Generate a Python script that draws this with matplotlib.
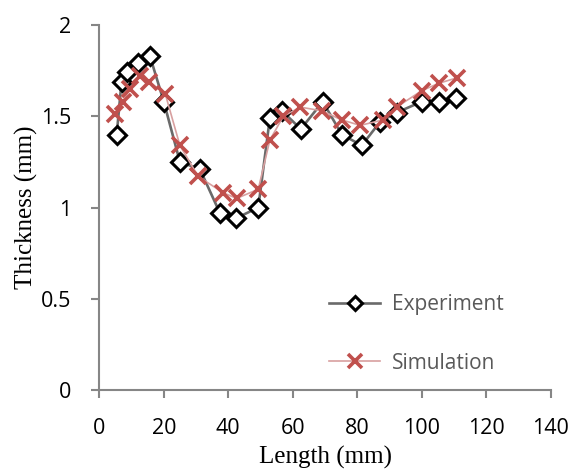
import matplotlib
matplotlib.use('Agg')
import matplotlib.pyplot as plt

# Experiment (diamonds)
exp_length = [5.4, 6.9, 8.5, 12.1, 15.7, 20.0, 25.0, 31.2, 37.4, 42.3, 49.3,
              52.9, 56.6, 62.5, 69.3, 75.2, 81.4, 87.1, 92.2, 100.0, 105.5, 110.6]
exp_thick = [1.40, 1.69, 1.74, 1.79, 1.83, 1.58, 1.25, 1.21, 0.97, 0.94, 1.00,
             1.49, 1.53, 1.43, 1.58, 1.40, 1.34, 1.47, 1.52, 1.58, 1.58, 1.60]

# Simulation (crosses)
sim_length = [5.0, 7.2, 9.5, 12.5, 15.5, 20.5, 25.0, 30.7, 38.5, 42.6, 49.3,
              52.9, 57.1, 62.3, 69.0, 75.2, 80.9, 88.0, 92.2, 100.0, 105.2, 110.8]
sim_thick = [1.51, 1.58, 1.65, 1.72, 1.69, 1.62, 1.34, 1.17, 1.08, 1.05, 1.10,
             1.37, 1.50, 1.55, 1.53, 1.48, 1.45, 1.48, 1.55, 1.64, 1.68, 1.71]

xticks = [0, 20, 40, 60, 80, 100, 120, 140]
yticks = [0, 0.5, 1, 1.5, 2]
ytick_labels = ['0', '0.5', '1', '1.5', '2']

tick_font = 'Open Sans'
label_font = 'Liberation Serif'
axis_grey = '#868686'

fig = plt.figure(figsize=(5.72, 4.69), dpi=100)
ax = fig.add_axes([0.1736, 0.1684, 0.7892, 0.7783])

ax.plot(exp_length, exp_thick, color='#6a6a6a', linewidth=1.9,
        marker='D', markersize=9, markerfacecolor='white',
        markeredgecolor='black', markeredgewidth=2.2, label='Experiment', zorder=3)
ax.plot(sim_length, sim_thick, color='#d8a0a0', linewidth=1.2,
        marker='x', markersize=12, markeredgecolor='#c0504d',
        markeredgewidth=2.6, label='Simulation', zorder=4)

ax.set_xlim(0, 140)
ax.set_ylim(0, 2)
ax.set_xticks(xticks)
ax.set_yticks(yticks)
ax.set_yticklabels(ytick_labels)

for side in ['top', 'right']:
    ax.spines[side].set_visible(False)
for side in ['left', 'bottom']:
    ax.spines[side].set_color(axis_grey)
    ax.spines[side].set_linewidth(1.5)

ax.tick_params(direction='out', length=6, width=1.5, color=axis_grey,
               labelsize=15.5)
ax.tick_params(axis='x', pad=14)
ax.tick_params(axis='y', pad=14)
for lbl in ax.get_xticklabels() + ax.get_yticklabels():
    lbl.set_fontfamily(tick_font)
    lbl.set_color('black')

ax.set_xlabel('Length (mm)', fontfamily=label_font, fontsize=18, labelpad=5)
ax.set_ylabel('Thickness (mm)', fontfamily=label_font, fontsize=18, labelpad=2)

leg = ax.legend(loc='lower left', bbox_to_anchor=(0.509, 0.045), frameon=False,
                prop={'family': tick_font, 'size': 15}, labelspacing=1.8,
                handlelength=2.45, handletextpad=0.55, borderpad=0,
                borderaxespad=0, markerscale=0.8)
for txt in leg.get_texts():
    txt.set_color('#595959')

fig.savefig('out.png', dpi=100)
